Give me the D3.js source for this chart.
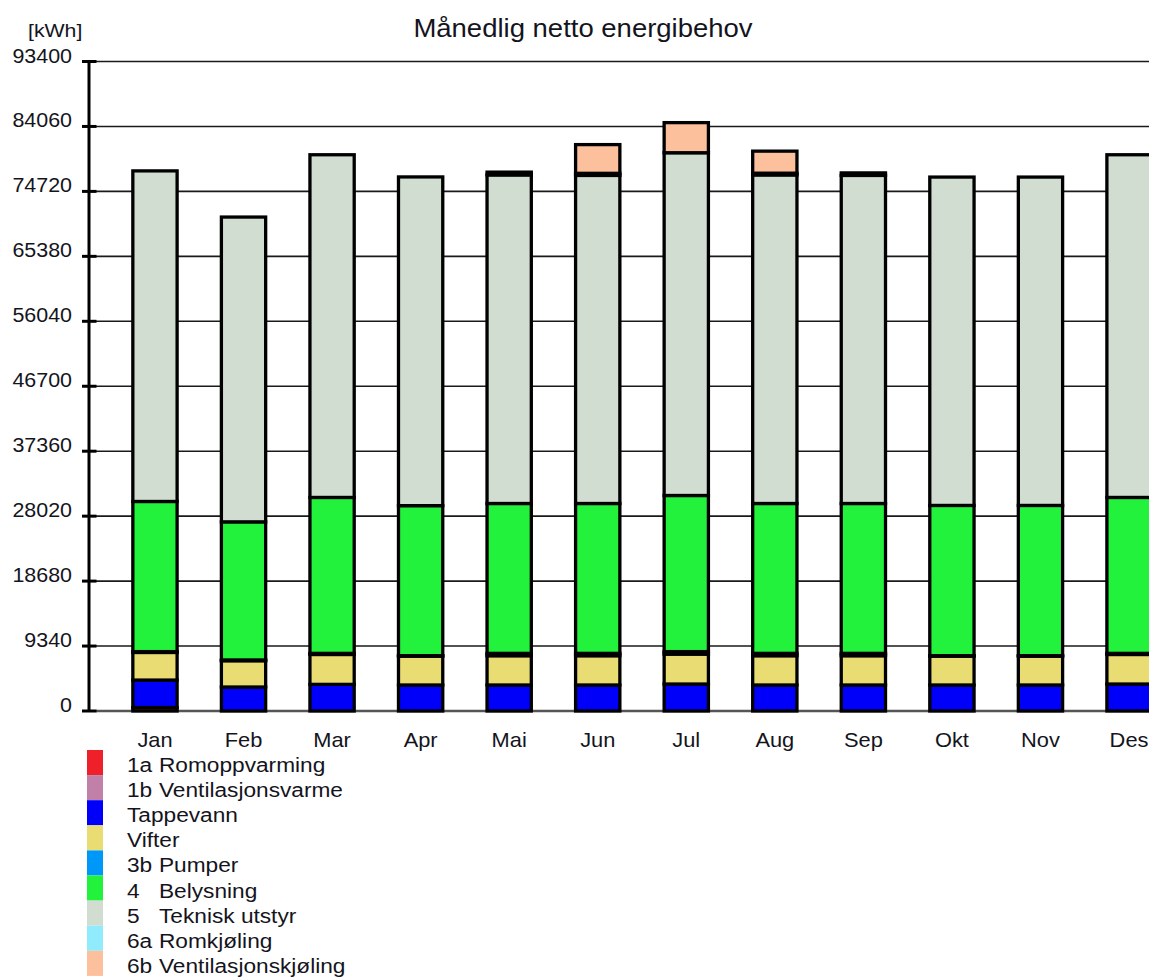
<!DOCTYPE html>
<html>
<head>
<meta charset="utf-8">
<title>Månedlig netto energibehov</title>
<script src="https://d3js.org/d3.v7.min.js"></script>
<style>
    body { margin: 0; background: #fff; }
    text { font-family: "Liberation Sans", Arial, sans-serif; fill: #141420; }
</style>
</head>
<body>
<script>
//chart data (kWh per month)
var months = ["Jan", "Feb", "Mar", "Apr", "Mai", "Jun", "Jul", "Aug", "Sep", "Okt", "Nov", "Des"];
var romoppvarming = [500, 0, 0, 0, 0, 0, 0, 0, 0, 0, 0, 0];
var ventilasjonsvarme = [0, 0, 0, 0, 0, 0, 0, 0, 0, 0, 0, 0];
var tappevann = [3950, 3450, 3830, 3740, 3740, 3740, 3880, 3740, 3740, 3740, 3740, 3880];
var vifter = [3970, 3780, 4300, 4150, 4210, 4210, 4300, 4210, 4210, 4150, 4150, 4250];
var pumper = [120, 110, 160, 70, 340, 340, 360, 340, 340, 70, 70, 160];
var belysning = [21590, 19860, 22420, 21570, 21550, 21550, 22450, 21550, 21550, 21600, 21600, 22420];
var tekniskUtstyr = [47540, 43830, 49280, 47270, 47250, 47180, 49290, 47250, 47180, 47220, 47220, 49280];
var romkjoling = [0, 0, 0, 0, 400, 300, 0, 250, 360, 0, 0, 0];
var ventilasjonskjoling = [0, 0, 0, 0, 0, 4130, 4330, 3170, 0, 0, 0, 0];

//y axis tick labels
var yTicks = [0, 9340, 18680, 28020, 37360, 46700, 56040, 65380, 74720, 84060, 93400];

//legend entries (code + name) and colours, in stacking order
var seriesKeys = ["1a", "1b", "2", "3a", "3b", "4", "5", "6a", "6b"];
var legendCodes = ["1a", "1b", "", "", "3b", "4", "5", "6a", "6b"];
var legendNames = ["Romoppvarming", "Ventilasjonsvarme", "Tappevann", "Vifter", "Pumper",
    "Belysning", "Teknisk utstyr", "Romkjøling", "Ventilasjonskjøling"];
var seriesColors = ["#f0202a", "#c080a8", "#0000fa", "#e8dc72", "#0098f8",
    "#22f23c", "#d0ddd0", "#90ecfc", "#fcc09c"];

window.onload = drawChart();

function drawChart(){

    var width = 1149,
        height = 978;

    var stretch = 1.1; //text in the picture is a bit wider than the font

    var svg = d3.select("body")
        .append("svg")
        .attr("width", width)
        .attr("height", height);

    svg.append("rect")
        .attr("width", width)
        .attr("height", height)
        .attr("fill", "#fff");

    //build the table d3.stack wants
    var columns = [romoppvarming, ventilasjonsvarme, tappevann, vifter, pumper,
        belysning, tekniskUtstyr, romkjoling, ventilasjonskjoling];
    var table = months.map(function(m, i){
        var row = { month: m };
        seriesKeys.forEach(function(k, j){ row[k] = columns[j][i]; });
        return row;
    });

    var stacked = d3.stack().keys(seriesKeys)(table);

    //scales
    var x = d3.scaleBand()
        .domain(months)
        .range([110.7, 1173.3])
        .paddingInner(0.5)
        .paddingOuter(0.25);

    var y = d3.scaleLinear()
        .domain([0, 93400])
        .range([711, 61.5]);

    var color = d3.scaleOrdinal()
        .domain(seriesKeys)
        .range(seriesColors);

    //horizontal grid lines
    svg.selectAll(".grid")
        .data(yTicks)
        .enter()
        .append("line")
        .attr("class", "grid")
        .attr("x1", 96)
        .attr("x2", width)
        .attr("y1", function(d){ return y(d); })
        .attr("y2", function(d){ return y(d); })
        .attr("stroke", function(d){ return d === 0 ? "#555" : "#1a1a1a"; })
        .attr("stroke-width", function(d){ return d === 0 ? 2.5 : 1.6; });

    //y axis with d3 axis, then restyled
    var yAxis = svg.append("g")
        .attr("transform", "translate(88.5,0)")
        .call(d3.axisLeft(y).tickValues(yTicks).tickSize(0).tickFormat(""));
    yAxis.select(".domain")
        .attr("stroke", "#000")
        .attr("stroke-width", 3);

    svg.selectAll(".ytick")
        .data(yTicks)
        .enter()
        .append("line")
        .attr("class", "ytick")
        .attr("x1", 82)
        .attr("x2", 96.5)
        .attr("y1", function(d){ return y(d); })
        .attr("y2", function(d){ return y(d); })
        .attr("stroke", "#000")
        .attr("stroke-width", 3);

    svg.selectAll(".ylabel")
        .data(yTicks)
        .enter()
        .append("g")
        .attr("transform", function(d){ return "translate(72," + (y(d) + 1) + ") scale(" + stretch + ",1)"; })
        .append("text")
        .attr("text-anchor", "end")
        .attr("font-size", "19.5px")
        .text(function(d){ return d; });

    //stacked bars
    var layers = svg.selectAll(".layer")
        .data(stacked)
        .enter()
        .append("g")
        .attr("class", "layer")
        .attr("fill", function(d){ return color(d.key); });

    layers.selectAll("rect")
        .data(function(d){ return d.filter(function(s){ return s[1] - s[0] > 0; }); })
        .enter()
        .append("rect")
        .attr("x", function(d){ return x(d.data.month); })
        .attr("width", x.bandwidth())
        .attr("y", function(d){ return y(d[1]); })
        .attr("height", function(d){ return y(d[0]) - y(d[1]); })
        .attr("stroke", "#000")
        .attr("stroke-width", 3.3);

    //month labels
    svg.selectAll(".xlabel")
        .data(months)
        .enter()
        .append("g")
        .attr("transform", function(d){ return "translate(" + (x(d) + x.bandwidth() / 2) + ",747) scale(1.04,1)"; })
        .append("text")
        .attr("text-anchor", "middle")
        .attr("font-size", "21px")
        .text(function(d){ return d; });

    //title and unit
    svg.append("g")
        .attr("transform", "translate(583,37) scale(" + stretch + ",1)")
        .append("text")
        .attr("text-anchor", "middle")
        .attr("font-size", "25px")
        .text("Månedlig netto energibehov");

    svg.append("g")
        .attr("transform", "translate(28,37) scale(1.15,1)")
        .append("text")
        .attr("font-size", "18.5px")
        .text("[kWh]");

    //legend
    var legend = svg.selectAll(".legend")
        .data(seriesKeys)
        .enter()
        .append("g")
        .attr("class", "legend")
        .attr("transform", function(d, i){ return "translate(0," + (750 + i * 25.1) + ")"; });

    legend.append("rect")
        .attr("x", 87)
        .attr("width", 16)
        .attr("height", 25.1)
        .attr("fill", function(d){ return color(d); });

    legend.append("g")
        .attr("transform", "translate(127,22) scale(1.08,1)")
        .append("text")
        .attr("font-size", "21px")
        .text(function(d, i){ return legendCodes[i]; });

    legend.append("g")
        .attr("transform", function(d, i){
            return "translate(" + (legendCodes[i] ? 159 : 127) + ",22) scale(1.08,1)";
        })
        .append("text")
        .attr("font-size", "21px")
        .text(function(d, i){ return legendNames[i]; });
}
</script>
</body>
</html>
